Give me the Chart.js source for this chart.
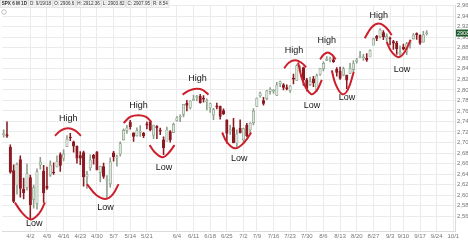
<!DOCTYPE html>
<html>
<head>
<meta charset="utf-8">
<script src="https://cdn.jsdelivr.net/npm/chart.js@4.4.1/dist/chart.umd.min.js"></script>
<style>
  html, body { margin: 0; padding: 0; background: #fff; }
  #wrap { width: 468px; height: 241px; position: relative; }
</style>
</head>
<body>
<div id="wrap"><canvas id="chart"></canvas></div>
<script>
// ── Trading days on the axis (last eight are empty future days) ──
const dates = [
  '3/20','3/21','3/22','3/23','3/26','3/27','3/28','3/29',
  '4/2','4/3','4/4','4/5','4/6','4/9','4/10','4/11','4/12','4/13',
  '4/16','4/17','4/18','4/19','4/20','4/23','4/24','4/25','4/26','4/27',
  '4/30','5/1','5/2','5/3','5/4','5/7','5/8','5/9','5/10','5/11',
  '5/14','5/15','5/16','5/17','5/18','5/21','5/22','5/23','5/24','5/25',
  '5/29','5/30','5/31','6/1','6/4','6/5','6/6','6/7','6/8',
  '6/11','6/12','6/13','6/14','6/15','6/18','6/19','6/20','6/21','6/22',
  '6/25','6/26','6/27','6/28','6/29','7/2','7/3','7/5','7/6',
  '7/9','7/10','7/11','7/12','7/13','7/16','7/17','7/18','7/19','7/20',
  '7/23','7/24','7/25','7/26','7/27','7/30','7/31','8/1','8/2','8/3',
  '8/6','8/7','8/8','8/9','8/10','8/13','8/14','8/15','8/16','8/17',
  '8/20','8/21','8/22','8/23','8/24','8/27','8/28','8/29','8/30','8/31',
  '9/4','9/5','9/6','9/7','9/10','9/11','9/12','9/13','9/14',
  '9/17','9/18','9/19',
  '9/20','9/21','9/24','9/25','9/26','9/27','9/28','10/1'
];

// Weekly tick labels: day on the axis -> text shown
const tickAt   = ['4/2','4/9','4/16','4/23','4/30','5/7','5/14','5/21','6/4','6/11','6/18','6/25',
                  '7/2','7/9','7/16','7/23','7/30','8/6','8/13','8/20','8/27','9/4','9/10','9/17','9/24','10/1'];
const tickText = ['4/2','4/9','4/16','4/23','4/30','5/7','5/14','5/21','6/4','6/11','6/18','6/25',
                  '7/2','7/9','7/16','7/23','7/30','8/6','8/13','8/20','8/27','9/3','9/10','9/17','9/24','10/1'];

// ── OHLC ──
const opens = [
  2715.05, 2714.99, 2691.36, 2646.71, 2619.35, 2667.57, 2611.30, 2614.41,
  2633.45, 2592.17, 2584.04, 2657.36, 2645.82,
  2617.18, 2638.41, 2643.56, 2653.83, 2676.90,
  2670.10, 2692.74, 2710.11, 2701.16, 2692.56,
  2675.40, 2680.80, 2634.92, 2651.65, 2675.47,
  2682.51, 2642.96, 2654.24, 2628.08, 2621.45,
  2680.34, 2670.26, 2678.12, 2705.02, 2722.70,
  2738.47, 2718.59, 2712.62, 2719.71, 2717.35,
  2735.39, 2738.34, 2713.98, 2730.94, 2723.60,
  2705.11, 2702.43, 2720.98, 2718.70,
  2741.67, 2748.46, 2753.25, 2774.84, 2765.84,
  2780.18, 2785.60, 2787.94, 2783.21, 2777.78,
  2765.79, 2752.01, 2769.73, 2769.28, 2760.79,
  2742.94, 2722.12, 2728.45, 2698.69, 2727.13,
  2704.95, 2733.27, 2724.19, 2737.68,
  2768.51, 2788.56, 2779.82, 2783.14, 2796.93,
  2797.36, 2789.34, 2811.35, 2809.37, 2804.55,
  2799.17, 2820.68, 2817.73, 2835.49, 2842.35,
  2819.00, 2809.73, 2821.17, 2800.48, 2829.62,
  2840.29, 2855.92, 2856.79, 2857.19, 2838.90,
  2835.46, 2827.88, 2827.95, 2831.44, 2838.32,
  2853.93, 2861.51, 2860.99, 2860.29, 2862.35,
  2884.69, 2901.45, 2900.62, 2908.94, 2898.37,
  2896.96, 2891.59, 2888.64, 2868.26,
  2881.39, 2871.57, 2888.29, 2896.85, 2906.38,
  2903.83, 2890.74, 2906.60
];
const highs = [
  2724.22, 2739.14, 2695.68, 2657.67, 2661.36, 2674.78, 2632.65, 2659.07,
  2638.30, 2619.14, 2649.86, 2672.08, 2656.88,
  2653.55, 2665.45, 2661.43, 2674.72, 2680.26,
  2686.49, 2713.34, 2717.49, 2702.84, 2693.94,
  2682.86, 2683.55, 2645.30, 2676.48, 2677.35,
  2682.87, 2655.27, 2660.87, 2637.14, 2670.93,
  2683.35, 2676.34, 2701.27, 2726.11, 2732.86,
  2742.10, 2718.59, 2727.76, 2731.96, 2719.50,
  2739.19, 2742.24, 2733.33, 2731.97, 2727.36,
  2710.67, 2729.34, 2722.50, 2736.93,
  2749.16, 2752.61, 2772.39, 2779.90, 2779.39,
  2790.21, 2789.80, 2791.47, 2789.06, 2782.81,
  2774.99, 2765.05, 2774.86, 2769.28, 2764.17,
  2742.94, 2732.91, 2746.09, 2724.34, 2743.26,
  2727.26, 2736.58, 2737.83, 2764.41,
  2784.65, 2795.58, 2785.91, 2799.22, 2804.53,
  2801.19, 2814.19, 2816.76, 2812.05, 2809.70,
  2808.61, 2829.99, 2848.03, 2845.57, 2843.17,
  2821.74, 2824.46, 2825.83, 2829.91, 2840.38,
  2853.29, 2863.43, 2862.44, 2862.48, 2842.20,
  2843.40, 2843.11, 2827.95, 2850.49, 2855.63,
  2859.76, 2873.23, 2867.54, 2868.78, 2876.16,
  2898.25, 2903.77, 2916.50, 2912.46, 2906.32,
  2900.18, 2894.21, 2892.05, 2883.81,
  2886.93, 2890.43, 2894.65, 2906.76, 2908.30,
  2904.65, 2911.17, 2912.36
];
const lows = [
  2710.05, 2709.79, 2641.59, 2585.89, 2601.81, 2596.12, 2593.06, 2609.72,
  2553.80, 2575.49, 2573.61, 2649.58, 2586.27,
  2610.79, 2635.78, 2639.25, 2653.83, 2645.05,
  2665.16, 2692.05, 2703.63, 2681.90, 2660.61,
  2657.99, 2617.32, 2612.67, 2647.16, 2659.01,
  2648.04, 2625.41, 2631.70, 2594.62, 2615.32,
  2664.70, 2655.20, 2674.14, 2704.54, 2717.45,
  2725.47, 2701.91, 2712.17, 2711.36, 2709.18,
  2725.70, 2721.88, 2707.38, 2707.38, 2714.99,
  2676.81, 2702.43, 2700.68, 2718.70,
  2740.54, 2739.51, 2748.46, 2760.16, 2763.59,
  2780.17, 2778.78, 2774.65, 2776.52, 2761.73,
  2757.12, 2743.19, 2763.91, 2744.39, 2752.68,
  2698.67, 2715.60, 2699.38, 2691.99, 2718.03,
  2698.95, 2711.16, 2716.02, 2733.52,
  2768.51, 2786.24, 2770.77, 2781.53, 2791.69,
  2793.39, 2789.24, 2805.89, 2799.77, 2800.01,
  2795.14, 2811.12, 2817.73, 2835.26, 2808.34,
  2798.11, 2808.06, 2805.85, 2796.34, 2827.37,
  2835.98, 2855.92, 2853.09, 2851.98, 2825.81,
  2819.88, 2826.58, 2802.49, 2831.44, 2833.73,
  2850.62, 2861.32, 2856.05, 2854.03, 2862.35,
  2884.69, 2893.50, 2898.40, 2895.22, 2891.73,
  2885.13, 2876.92, 2867.29, 2864.12,
  2875.94, 2866.78, 2879.20, 2896.39, 2895.77,
  2886.16, 2890.43, 2903.82
];
const closes = [
  2716.94, 2711.93, 2643.69, 2588.26, 2658.55, 2612.62, 2605.00, 2640.87,
  2581.88, 2614.45, 2644.69, 2662.84, 2604.47,
  2613.16, 2656.87, 2642.19, 2663.99, 2656.30,
  2677.84, 2706.39, 2708.64, 2693.13, 2670.14,
  2670.29, 2634.56, 2639.40, 2666.94, 2669.91,
  2648.05, 2654.80, 2635.67, 2629.73, 2663.42,
  2672.63, 2671.92, 2697.79, 2723.07, 2727.72,
  2730.13, 2711.45, 2722.46, 2720.13, 2712.97,
  2733.01, 2724.44, 2733.29, 2727.76, 2721.33,
  2689.86, 2724.01, 2705.27, 2734.62,
  2746.87, 2748.80, 2772.35, 2770.37, 2779.03,
  2782.00, 2786.85, 2775.63, 2782.49, 2779.66,
  2773.75, 2762.59, 2767.32, 2749.76, 2754.88,
  2717.07, 2723.06, 2699.63, 2716.31, 2718.37,
  2726.71, 2713.22, 2736.61, 2759.82,
  2784.17, 2793.84, 2774.02, 2798.29, 2801.31,
  2798.43, 2809.55, 2815.62, 2804.49, 2801.83,
  2806.98, 2820.40, 2846.07, 2837.44, 2818.82,
  2802.60, 2816.29, 2813.36, 2827.22, 2840.35,
  2850.40, 2858.45, 2857.70, 2853.58, 2833.28,
  2821.93, 2839.96, 2818.37, 2840.69, 2850.13,
  2857.05, 2862.96, 2861.82, 2856.98, 2874.69,
  2896.74, 2897.52, 2914.04, 2901.13, 2901.52,
  2896.72, 2888.60, 2878.05, 2871.68,
  2877.13, 2887.89, 2888.92, 2904.18, 2904.98,
  2888.80, 2904.31, 2907.95
];

// ── Hand-drawn swing arcs: [day index, price] points ──
const arcs = [
  [[3.4, 2586], [5.5, 2567], [8.2, 2554], [10.6, 2565], [12.4, 2586]],   // low
  [[15.4, 2713], [17.2, 2723], [19.3, 2727], [21.4, 2723], [23.2, 2713]], // high
  [[25.0, 2621], [27.7, 2601], [30.6, 2593], [32.7, 2601], [34.5, 2621]], // low
  [[36.0, 2737], [38.1, 2749], [40.5, 2752], [42.6, 2749], [44.4, 2739]], // high
  [[43.8, 2695], [45.6, 2680], [47.7, 2672], [49.5, 2680], [51.3, 2695]], // low
  [[53.7, 2791], [55.8, 2799], [57.9, 2802], [59.7, 2800], [61.5, 2791]], // high
  [[65.6, 2719], [67.1, 2700], [69.5, 2689], [72.2, 2700], [74.3, 2719]], // low
  [[84.2, 2841], [85.7, 2852], [87.5, 2856], [89.3, 2852], [90.8, 2843]], // high
  [[88.4, 2852], [89.9, 2815], [92.3, 2792], [94.1, 2800], [95.5, 2819]], // low
  [[95.0, 2858], [96.1, 2867], [97.3, 2871], [98.5, 2867], [99.7, 2858]], // high
  [[98.5, 2837], [99.7, 2810], [101.6, 2792], [103.3, 2800], [105.1, 2834]], // low
  [[108.4, 2898], [110.5, 2919], [112.6, 2926], [114.7, 2919], [116.5, 2904]], // high
  [[115.0, 2891], [116.5, 2872], [118.6, 2862], [120.4, 2872], [122.2, 2895]]  // low
];

// Labels next to the arcs
const noteText  = ['Low', 'High', 'Low', 'High', 'Low', 'High', 'Low', 'High', 'Low', 'High', 'Low', 'High', 'Low'];
const noteIdx   = [9.2, 19.4, 30.6, 40.5, 48.1, 58.2, 70.7, 87.2, 92.6, 97.0, 103.1, 112.6, 119.6];
const notePrice = [2547, 2745, 2577, 2771, 2652, 2821, 2669, 2874, 2771, 2893, 2785, 2941, 2839];

// Header strip
const headerParts = ['SPX 6 M 1D', 'D: 9/19/18', 'O: 2906.6', 'H: 2912.36', 'L: 2903.82', 'C: 2907.95', 'R: 8.54'];

// ── Colours ──
const UP_FILL   = '#dbe7da';
const UP_LINE   = '#8a9e89';
const DOWN_FILL = '#8c1a22';
const ARC_RED   = '#cc1f2b';
const FONT      = "'Liberation Sans', Arial, sans-serif";

const isUp = opens.map((o, i) => closes[i] >= o);
const tickIdx = tickAt.map(d => dates.indexOf(d));

const overlay = {
  id: 'overlay',
  afterDraw(chart) {
    const { ctx, chartArea } = chart;
    const xs = chart.scales.x, ys = chart.scales.y;
    ctx.save();

    // High / Low words
    ctx.font = `9px ${FONT}`;
    ctx.fillStyle = '#151515';
    ctx.textAlign = 'center';
    ctx.textBaseline = 'middle';
    noteText.forEach((t, i) => {
      ctx.fillText(t, xs.getPixelForValue(noteIdx[i]), ys.getPixelForValue(notePrice[i]));
    });

    // last price tag on the right axis
    const last = closes[closes.length - 1];
    const py = ys.getPixelForValue(last);
    ctx.fillStyle = '#1f5a2c';
    ctx.fillRect(chartArea.right + 1, py - 3.5, 13, 7);
    ctx.fillStyle = '#fff';
    ctx.font = `5.5px ${FONT}`;
    ctx.textAlign = 'left';
    ctx.fillText(Math.round(last), chartArea.right + 2, py + 0.3);

    // header boxes
    let x = 0.5;
    headerParts.forEach((t, i) => {
      ctx.font = (i === 0 ? 'bold ' : '') + `4.6px ${FONT}`;
      const w = ctx.measureText(t).width + 2.4;
      ctx.fillStyle = '#f3f3f3';
      ctx.fillRect(x, 0.5, w, 7);
      ctx.strokeStyle = '#d4d4d4';
      ctx.lineWidth = 0.5;
      ctx.strokeRect(x, 0.5, w, 7);
      ctx.fillStyle = '#333';
      ctx.fillText(t, x + 1.2, 4.2);
      x += w + 0.6;
    });

    // small toggle circle under the header
    ctx.strokeStyle = '#999';
    ctx.lineWidth = 0.6;
    ctx.beginPath();
    ctx.arc(4, 12, 2.3, 0, Math.PI * 2);
    ctx.stroke();

    ctx.restore();
  }
};

const arcSets = arcs.map(pts => ({
  type: 'line',
  data: pts.map(p => ({ x: p[0], y: p[1] })),
  borderColor: ARC_RED,
  borderWidth: 2,
  pointRadius: 0,
  tension: 0.4,
  order: 0
}));

new Chart(document.getElementById('chart'), {
  type: 'bar',
  data: {
    datasets: [
      {
        label: 'Body',
        data: opens.map((o, i) => ({ x: i, y: [o, closes[i]] })),
        backgroundColor: isUp.map(u => u ? UP_FILL : DOWN_FILL),
        borderColor: isUp.map(u => u ? UP_LINE : DOWN_FILL),
        borderWidth: 0.7,
        borderSkipped: false,
        barThickness: 2.5,
        minBarLength: 1,
        grouped: false,
        order: 1
      },
      {
        label: 'Wick',
        data: lows.map((l, i) => ({ x: i, y: [l, highs[i]] })),
        backgroundColor: isUp.map(u => u ? UP_LINE : DOWN_FILL),
        borderWidth: 0,
        barThickness: 0.9,
        grouped: false,
        order: 2
      },
      ...arcSets
    ]
  },
  plugins: [overlay],
  options: {
    responsive: true,
    maintainAspectRatio: false,
    animation: false,
    layout: { padding: { left: 2, top: 0, right: 0, bottom: 0 } },
    plugins: {
      legend: { display: false },
      tooltip: { enabled: false }
    },
    scales: {
      x: {
        type: 'linear',
        offset: false,
        min: -0.5,
        max: dates.length - 0.5,
        grid: { offset: false, drawTicks: false, color: '#ebebeb' },
        border: { color: '#dcdcdc' },
        afterBuildTicks: (s) => { s.ticks = tickIdx.map(v => ({ value: v })); },
        ticks: {
          autoSkip: false,
          maxRotation: 0,
          padding: 2,
          color: '#777',
          font: { size: 6, family: FONT },
          callback: (v) => tickText[tickIdx.indexOf(v)]
        },
        afterFit: (s) => { s.height = 10; }
      },
      y: {
        position: 'right',
        min: 2532,
        max: 2960,
        grid: { color: '#ebebeb', drawTicks: false },
        border: { color: '#dcdcdc' },
        afterBuildTicks: (s) => { s.ticks = s.ticks.filter(t => t.value % 20 === 0); },
        ticks: {
          stepSize: 20,
          padding: 2,
          color: '#777',
          font: { size: 6, family: FONT }
        },
        afterFit: (s) => { s.width = 13; }
      }
    }
  }
});
</script>
</body>
</html>
